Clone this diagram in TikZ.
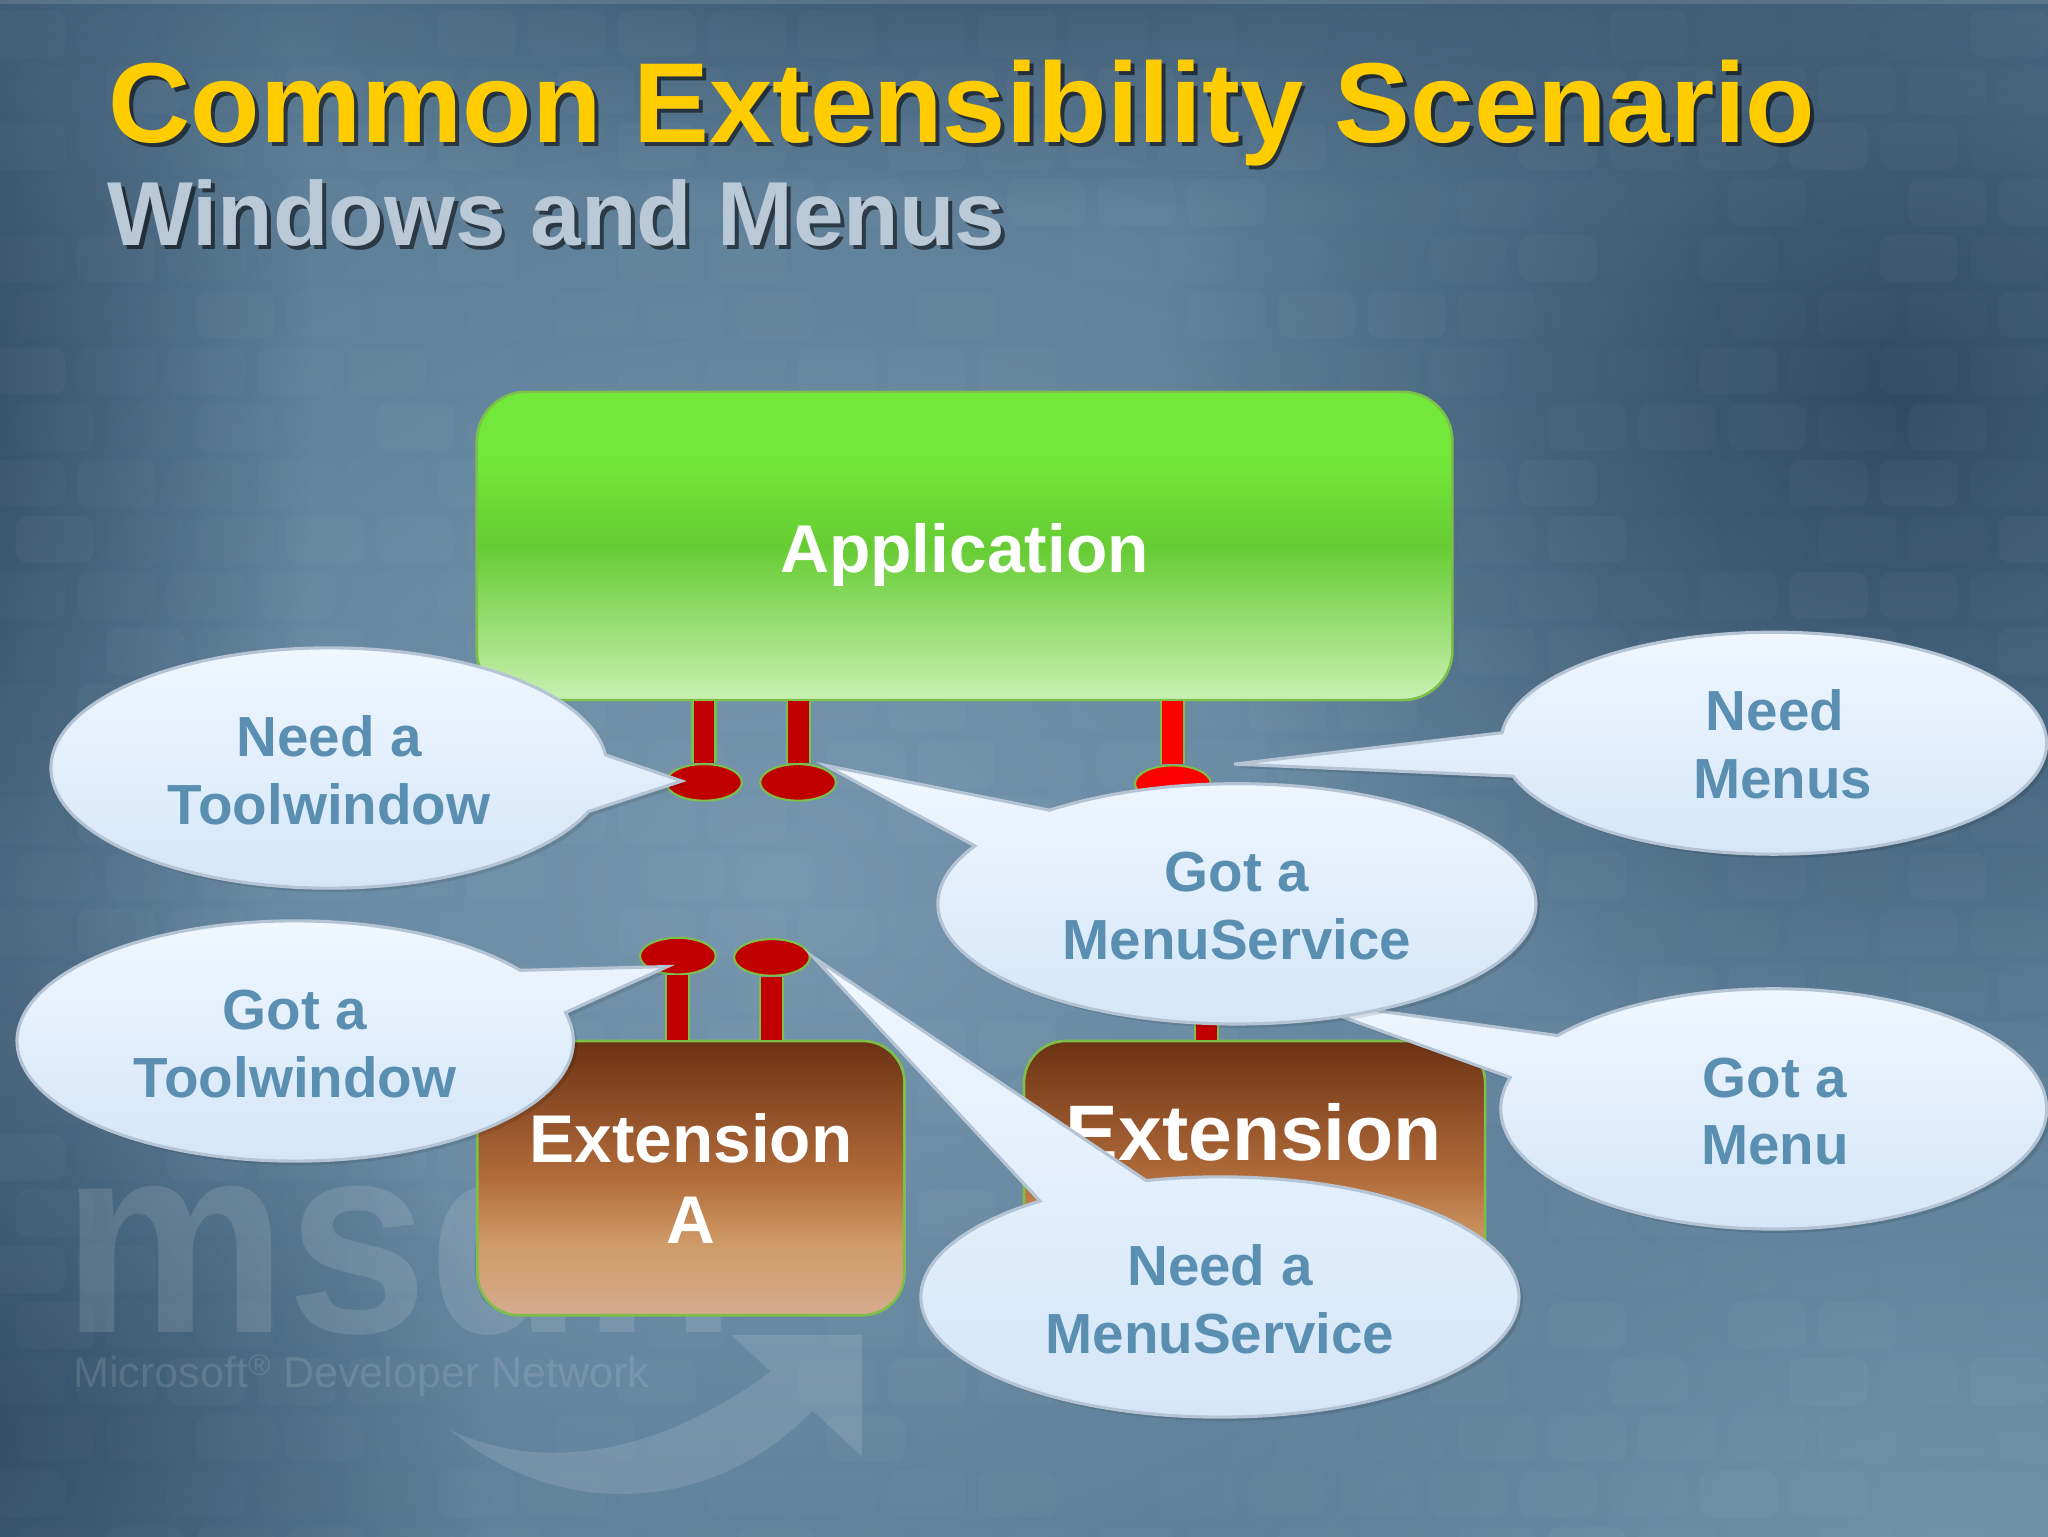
\documentclass[tikz,border=0pt]{standalone}
\usepackage{fontspec}
\setmainfont{Liberation Sans}
\usetikzlibrary{shapes.geometric,fadings}
\definecolor{pinedge}{HTML}{7CC04A}
\definecolor{pinred}{HTML}{C00000}
\definecolor{pinbright}{HTML}{FF0000}
\definecolor{bubtext}{HTML}{5A8FB2}
\definecolor{bubedge}{HTML}{B4C4D4}
\definecolor{bubtop}{HTML}{F0F7FF}
\definecolor{bubbot}{HTML}{D4E6F8}
\definecolor{titleyellow}{HTML}{FFCC00}
\definecolor{subgrey}{HTML}{BAC9D8}
\definecolor{bgbase}{RGB}{92,125,150}
\definecolor{bglight}{RGB}{118,150,174}
\definecolor{bgdark}{RGB}{48,74,98}
\definecolor{bglightb}{RGB}{112,146,168}
\definecolor{appA}{HTML}{C9F0B2}
\definecolor{appB}{HTML}{66CC33}
\definecolor{appC}{HTML}{72E83A}
\pgfdeclareverticalshading{appshadeb}{100bp}{color(0bp)=(appA);color(25bp)=(appA);color(50bp)=(appB);color(64bp)=(appC);color(75bp)=(appC);color(100bp)=(appC)}
\definecolor{extA}{HTML}{D6AB8E}
\definecolor{extB}{HTML}{CF9B68}
\definecolor{extC}{HTML}{B26C3B}
\definecolor{extD}{HTML}{6B3213}
\pgfdeclareverticalshading{extshade}{100bp}{color(0bp)=(extA);color(25bp)=(extA);color(38bp)=(extB);color(50bp)=(extC);color(75bp)=(extD);color(100bp)=(extD)}
\tikzfading[name=softspot,inner color=transparent!0,outer color=transparent!100]
\tikzset{
  pin/.style={shape=ellipse,draw=pinedge,line width=1.6pt,fill=pinred,minimum width=58pt,minimum height=28pt,inner sep=0pt},
  stem/.style={draw=pinedge,line width=1.6pt,double=pinred,double distance=16pt},
  stembright/.style={stem,double=pinbright},
  appbox/.style={draw=pinedge,line width=2pt,rounded corners=38pt,shading=appshadeb,minimum width=747pt,minimum height=236pt,inner sep=0pt},
  extbox/.style={draw=pinedge,line width=2pt,rounded corners=32pt,shading=extshade,inner sep=0pt,text=white,align=center,font=\fontsize{51.7}{62}\selectfont\bfseries},
  bubbletext/.style={text=bubtext,align=center,inner sep=0pt,font=\fontsize{43.3}{52}\selectfont\bfseries},
  spot/.style={path fading=softspot,fill=#1},
  wmtext/.style={text=white,opacity=0.12,inner sep=0pt},
  titletext/.style={anchor=base west,inner sep=0pt,font=\fontsize{87.1}{90}\selectfont\bfseries},
  subtext/.style={anchor=base west,inner sep=0pt,font=\fontsize{69.6}{72}\selectfont\bfseries},
}
\newcommand{\bubble}[9]{%
  \pgfmathsetmacro\bubA{atan2((#6-#2)/#4,(#5-#1)/#3)}%
  \pgfmathsetmacro\bubB{atan2((#8-#2)/#4,(#7-#1)/#3)}%
  \pgfmathsetmacro\bubB{\bubB<\bubA ? \bubB+360 : \bubB}%
  \fill[black,opacity=.10,shift={(3,3)}] plot[domain=\bubA:\bubB,samples=140,variable=\ang] ({#1+#3*cos(\ang)},{#2+#4*sin(\ang)}) -- #9 -- cycle;%
  \shade[top color=bubtop,bottom color=bubbot,draw=bubedge,line width=2.4pt,line join=miter] plot[domain=\bubA:\bubB,samples=140,variable=\ang] ({#1+#3*cos(\ang)},{#2+#4*sin(\ang)}) -- #9 -- cycle;%
}
\begin{document}
\begin{tikzpicture}[x=1pt,y=-1pt]
\useasboundingbox (0,0) rectangle (1568,1176);
% background
\fill[bgbase] (-3,-3) rectangle (1571,1179);
\begin{scope}
\clip (-3,-3) rectangle (1571,1179);
\fill[spot=bglight] (600,680) ellipse [x radius=760pt,y radius=620pt];
\fill[spot=bgdark] (1450,300) ellipse [x radius=560pt,y radius=520pt];
\fill[spot=bgdark] (-60,300) ellipse [x radius=300pt,y radius=760pt];
\fill[spot=bgdark] (-40,1100) ellipse [x radius=420pt,y radius=420pt];
\fill[spot=bgdark] (800,-100) ellipse [x radius=1000pt,y radius=260pt];
\fill[spot=bglightb] (1500,1180) ellipse [x radius=600pt,y radius=380pt];
\pgfmathsetseed{7}
\foreach \row in {0,...,27}{
  \foreach \col in {0,...,23}{
    \pgfmathsetmacro\bx{-10+\col*69+mod(\row,2)*22}
    \pgfmathsetmacro\by{8+\row*43}
    \pgfmathsetmacro\bo{0.006+0.022*rnd}
    \fill[white,opacity=\bo,rounded corners=9pt] (\bx,\by) rectangle ++(60,36);
  }
}
\fill[white,opacity=.12] (0,0) rectangle (1568,3);
\end{scope}
% watermark
\node[wmtext,anchor=base west,font=\fontsize{208}{208}\selectfont\bfseries,xscale=.93] (wmlogo) at (48,1020) {msdn};
\node[wmtext,anchor=base west,font=\fontsize{33}{33}\selectfont] (wmname) at (56,1062) {Microsoft\textsuperscript{®} Developer Network};
\fill[white,opacity=.12] (560,1022) -- (660,1022) -- (660,1115) -- (622,1080) .. controls (540,1165) and (420,1160) .. (345,1095) .. controls (420,1130) and (510,1110) .. (590,1050) -- cycle;
% title
\node[titletext,text=black,opacity=.55] (titleshadow) at (86,112) {Common Extensibility Scenario};
\node[titletext,text=titleyellow] (title) at (83,109) {Common Extensibility Scenario};
\node[subtext,text=black,opacity=.55] (subshadow) at (85,191) {Windows and Menus};
\node[subtext,text=subgrey] (subtitle) at (82,188) {Windows and Menus};
% boxes
\node[appbox] (app) at (738.5,418) {};
\node[inner sep=0pt,text=white,font=\fontsize{51.8}{62}\selectfont\bfseries] (applabel) at (738.5,425) {Application};
\node[extbox,minimum width=327pt,minimum height=210pt] (exta) at (529,902) {Extension\\A};
\node[extbox,minimum width=353pt,minimum height=210pt] (extb) at (960.5,902) {};
\node[inner sep=0pt,text=white,font=\fontsize{60.3}{60}\selectfont\bfseries] (extblabel) at (960,867) {Extension};
% pins
\node[pin] (p1) at (539,599) {};
\node[pin] (p2) at (611,599) {};
\node[pin,fill=pinbright] (p3) at (898,600) {};
\node[pin] (p4) at (519,732) {};
\node[pin] (p5) at (591,733) {};
\coordinate (p6) at (924,770);
\draw[stem] (p1 |- app.south) -- (p1.north);
\draw[stem] (p2 |- app.south) -- (p2.north);
\draw[stembright] (p3 |- app.south) -- (p3.north);
\draw[stem] (p4 |- exta.north) -- (p4.south);
\draw[stem] (p5 |- exta.north) -- (p5.south);
\draw[stem] (p6 |- extb.north) -- (p6);
% callouts
\bubble{252}{588}{213}{92}{455}{622}{463}{578}{(522,598)}
\node[bubbletext] (needtool) at (252,590) {Need a\\Toolwindow};
\bubble{1358}{569}{209}{85}{1150}{561}{1160}{594}{(945,585)}
\node[bubbletext] (needmenus) at (1365,570) {Need\hspace*{12pt}\\Menus};
\bubble{1358}{849}{209}{92}{1193}{793}{1157}{825}{(990,765)}
\node[bubbletext] (gotmenu) at (1359,851) {Got a\\Menu};
\bubble{947}{692}{229}{92}{805}{621}{748}{648}{(632,586)}
\node[bubbletext] (gotservice) at (947,694) {Got a\\MenuService};
\bubble{226}{797}{213}{92}{435}{775}{398}{743}{(511,740)}
\node[bubbletext] (gottool) at (226,799) {Got a\\Toolwindow};
\bubble{934}{993}{229}{92}{877}{903}{799}{921}{(623,733)}
\node[bubbletext] (needservice) at (934,995) {Need a\\MenuService};
\end{tikzpicture}
\end{document}
